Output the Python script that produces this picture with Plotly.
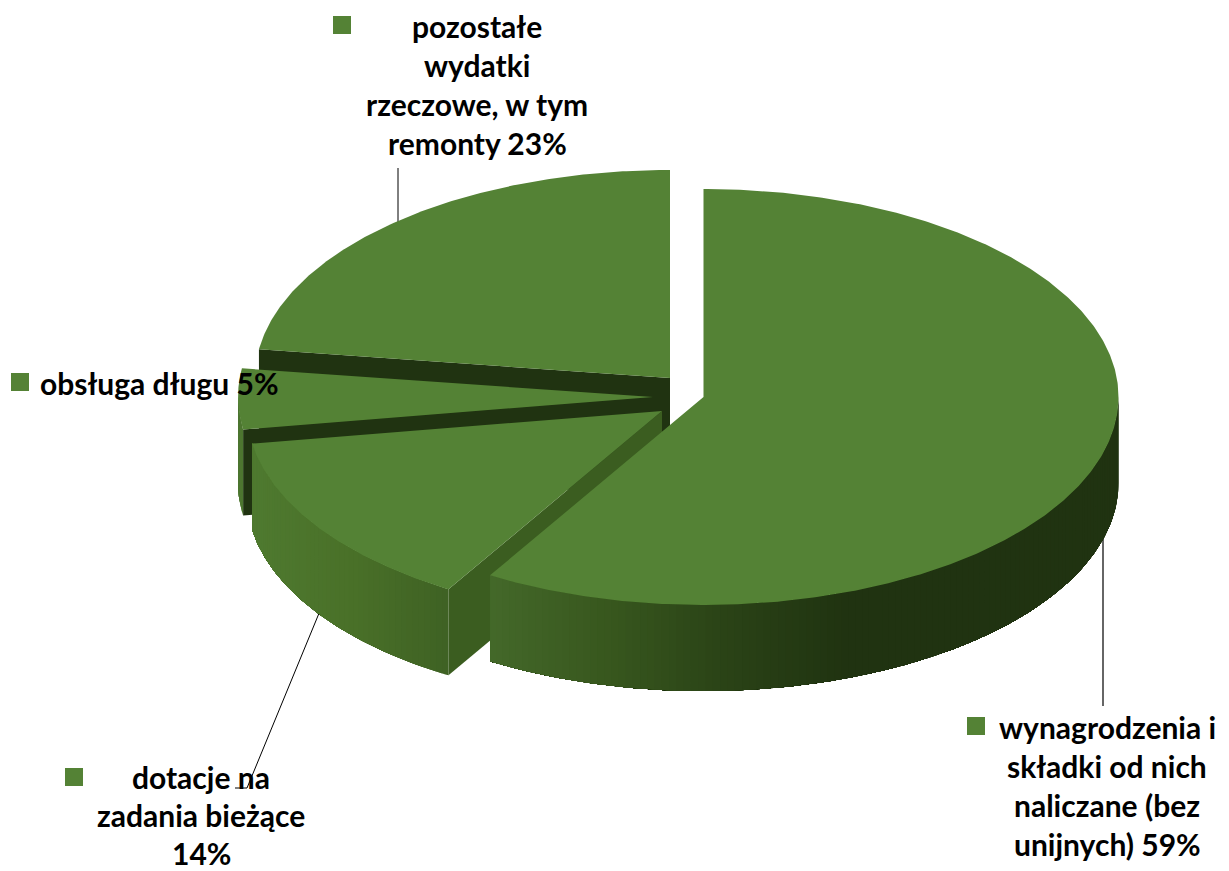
import numpy as np
import plotly.graph_objects as go

# --- data ---
categories = ["wynagrodzenia i składki od nich naliczane (bez unijnych)",
              "dotacje na zadania bieżące",
              "obsługa długu",
              "pozostałe wydatki rzeczowe, w tym remonty"]
values = [58.6, 13.9, 4.7, 22.8]
label_lines = [
    ["wynagrodzenia i", "składki od nich", "naliczane (bez", "unijnych) 59%"],
    ["dotacje na", "zadania bieżące", "14%"],
    ["obsługa długu 5%"],
    ["pozostałe", "wydatki", "rzeczowe, w tym", "remonty 23%"],
]

# --- geometry and style ---
W, H = 1229, 871
RX, RY, DEPTH = 415, 208, 86
TOP = "#548235"
DARK = "#203311"
tips = [(703.5, 397), (662, 411), (653, 397), (670, 378)]
wall_colors = [DARK, "#3b5d20", DARK, DARK]
rim_stops = [
    ([490, 600, 720, 850, 1118], ["#44692a", "#39591f", "#2b4417", "#203311", "#203311"]),
    ([252, 350, 448], ["#4f7a30", "#4a7129", "#3f6224"]),
    ([238, 252], ["#4d7630", "#4d7630"]),
    ([0, 1], [DARK, DARK]),
]
label_pos = [(1107, 727), (201, 777), (159, 383), (477, 26)]
line_heights = [39, 38, 39, 39]
swatches = [(976, 726), (74, 777), (20, 382), (342, 25)]
FONT = dict(family="Lato, Carlito, sans-serif", size=30, color="#000000", weight=700)


def hex_rgb(c):
    return np.array([int(c[i:i + 2], 16) for i in (1, 3, 5)], float)


def grad(x, xs, cs):
    rgb = [np.interp(x, xs, [hex_rgb(c)[k] for c in cs]) for k in range(3)]
    return "rgb(%d,%d,%d)" % tuple(rgb)


def rim(tip, a):
    a = np.radians(a)
    return tip[0] + RX * np.sin(a), tip[1] - RY * np.cos(a)


def poly(fig, xs, ys, color, edge=0.0):
    fig.add_trace(go.Scatter(x=list(xs), y=list(ys), mode="lines", fill="toself",
                             fillcolor=color, line=dict(color=color, width=edge),
                             hoverinfo="skip", showlegend=False))


def leader(fig, xs, ys, color, width):
    fig.add_trace(go.Scatter(x=xs, y=ys, mode="lines", line=dict(color=color, width=width),
                             hoverinfo="skip", showlegend=False))


fig = go.Figure()

# leader lines sit under the pie
leader(fig, [1103, 1103], [530, 706], "#666666", 2)
leader(fig, [398, 398], [168, 225], "#000000", 1)
leader(fig, [322, 247, 235], [606, 788, 788], "#000000", 1)

shares = np.array(values, float) / sum(values) * 360
starts = np.concatenate([[0], np.cumsum(shares)[:-1]])
ends = starts + shares

# painter's order: the back slice first
for i in [3, 2, 1, 0]:
    s, e, tip = starts[i], ends[i], tips[i]
    # cut wall on the slice's leading edge
    sx, sy = rim(tip, s)
    poly(fig, [tip[0], sx, sx, tip[0], tip[0]],
         [tip[1], sy, sy + DEPTH, tip[1] + DEPTH, tip[1]], wall_colors[i])
    # outer rim, shaded in overlapping bands so no seams show
    a0, a1 = max(s, 90), min(e, 270)
    if a1 > a0:
        n = max(2, int(a1 - a0))
        edges = np.linspace(a0, a1, n + 1)
        for p, q in zip(edges[:-1], edges[1:]):
            arc = np.linspace(p, a1, max(3, int((a1 - p) * 2)))
            ax, ay = rim(tip, arc)
            mx, _ = rim(tip, (p + q) / 2)
            poly(fig, np.r_[ax, ax[::-1], ax[0]], np.r_[ay, ay[::-1] + DEPTH, ay[0]],
                 grad(mx, *rim_stops[i]))
    # top face
    arc = np.linspace(s, e, max(12, int(e - s) * 2))
    ax, ay = rim(tip, arc)
    poly(fig, np.r_[tip[0], ax, tip[0]], np.r_[tip[1], ay, tip[1]], TOP)

# legend swatches
fig.add_trace(go.Scatter(x=[p[0] for p in swatches], y=[p[1] for p in swatches], mode="markers",
                         marker=dict(symbol="square", size=18, color=TOP, line=dict(width=0)),
                         hoverinfo="skip", showlegend=False))

# labels
for lines, (cx, cy), lh in zip(label_lines, label_pos, line_heights):
    for k, t in enumerate(lines):
        fig.add_annotation(x=cx, y=cy + k * lh, text=t, showarrow=False, font=FONT,
                           xanchor="center", yanchor="middle")

fig.update_xaxes(range=[0, W], visible=False, fixedrange=True)
fig.update_yaxes(range=[H, 0], visible=False, fixedrange=True)
fig.update_layout(width=W, height=H, margin=dict(l=0, r=0, t=0, b=0),
                  paper_bgcolor="white", plot_bgcolor="white", showlegend=False)
fig.write_html("out.html", config=dict(displayModeBar=False),
               post_script="document.body.style.margin='0';document.documentElement.style.overflow='hidden';")
